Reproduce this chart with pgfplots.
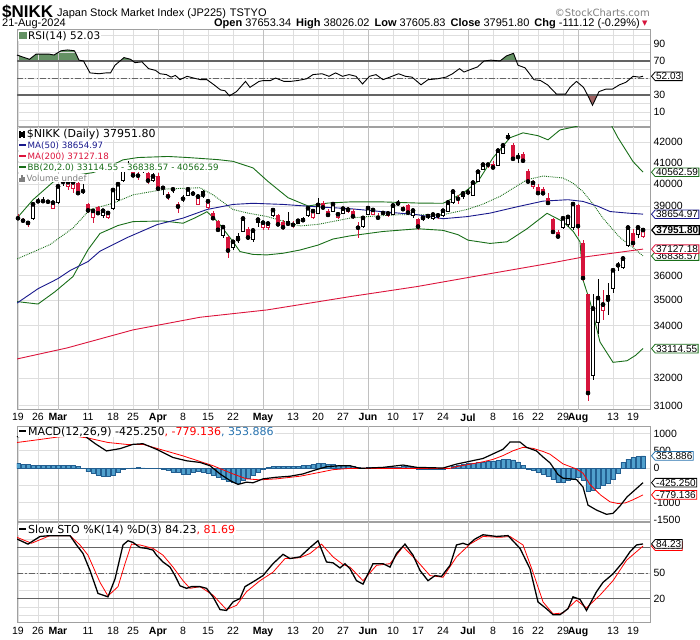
\documentclass[border=0pt]{standalone}
\usepackage{fontspec}
\setmainfont{Liberation Sans}
\newfontfamily\dv{DejaVu Sans}
\usepackage{pgfplots}
\pgfplotsset{compat=1.18}
\usepackage{pgfplotstable}
\usetikzlibrary{shapes.symbols}

\definecolor{cred}{RGB}{214,20,60}
\definecolor{ma50c}{RGB}{25,25,140}
\definecolor{ma200c}{RGB}{220,20,60}
\definecolor{bbg}{RGB}{25,110,25}
\definecolor{rsig}{RGB}{100,145,100}
\definecolor{rsir}{RGB}{160,100,100}
\definecolor{hfill}{RGB}{80,160,205}
\definecolor{hline}{RGB}{35,95,145}
\definecolor{gridc}{RGB}{222,222,222}
\definecolor{monc}{RGB}{192,192,192}
\definecolor{framec}{RGB}{160,160,160}
\definecolor{refc}{RGB}{100,100,100}
\definecolor{tagblue}{RGB}{40,115,175}

\pgfplotstableread{
x O H L C k
0 38550 38650 38400 38470 3
1 38450 38500 38300 38363 3
2 38230 38350 38100 38262 2
3 38450 39156 38400 39098 0
4 39260 39389 39150 39233 1
5 39270 39426 39150 39239 1
6 39250 39300 39100 39208 3
7 38900 39230 38876 39166 2
8 39200 39990 39100 39910 0
9 40150 40314 39950 40109 1
10 39900 40150 39750 40097 2
11 39800 40100 39600 40090 2
12 40050 40100 39500 39598 3
13 39720 40000 39550 39688 1
14 39100 39150 38700 38820 3
15 38500 38900 38271 38797 2
16 38950 39000 38600 38695 3
17 38600 38850 38500 38807 0
18 38500 38800 38450 38707 2
19 38900 39750 38850 39740 0
20 39300 40010 39250 40003 0
21 40200 40823 40100 40815 0
22 40950 41087 40600 40888 1
23 40600 40700 40300 40414 3
24 40450 40550 40200 40398 3
25 40600 40900 40500 40762 0
26 40500 40550 40000 40168 3
27 40200 40500 40100 40369 0
28 40400 40500 39700 39803 3
29 39880 39950 39500 39838 1
30 39550 39650 39300 39451 3
31 39820 39850 39600 39773 1
32 39100 39200 38700 38992 3
33 39420 39500 39200 39347 1
34 39500 39800 39450 39773 0
35 39650 39700 39450 39581 3
36 39100 39500 39050 39442 2
37 39700 39750 39400 39523 1
38 38950 39300 38900 39232 2
39 38700 38800 38400 38471 3
40 38330 38400 37900 37961 3
41 37700 38150 37600 38079 0
42 37650 37700 36733 37068 3
43 37200 37500 37100 37438 0
44 37700 37800 37400 37552 1
45 37900 38500 37850 38460 0
46 38000 38100 37500 37628 3
47 37550 38000 37450 37934 0
48 38280 38500 38100 38405 0
49 38050 38350 37950 38274 2
50 38050 38300 37950 38236 2
51 38600 38900 38550 38835 0
52 38600 38650 38150 38202 3
53 38300 38400 37950 38073 3
54 38350 38750 38150 38229 1
55 38220 38350 38050 38179 3
56 38250 38450 38200 38356 0
57 38480 38550 38300 38385 1
58 38600 38950 38550 38920 0
59 38500 38850 38450 38787 2
60 38700 39400 38650 39069 0
61 39150 39250 38900 38946 3
62 38800 38900 38550 38617 3
63 38800 39150 38750 39103 0
64 38500 38750 38450 38646 2
65 38700 38950 38650 38900 0
66 38800 38950 38700 38855 2
67 38800 38900 38450 38556 3
68 38120 38300 37617 38054 3
69 38100 38550 38050 38487 0
70 38650 38950 38600 38923 0
71 38650 38900 38600 38837 2
72 38580 38700 38400 38490 3
73 38760 38800 38600 38703 1
74 38600 38750 38550 38683 2
75 38650 39050 38600 39038 0
76 39160 39300 39000 39134 1
77 38950 39000 38800 38876 3
78 39050 39100 38700 38720 3
79 38600 38850 38500 38814 0
80 38450 38500 37950 38102 3
81 38460 38550 38350 38482 0
82 38540 38650 38450 38570 0
83 38450 38700 38400 38633 0
84 38560 38700 38450 38596 2
85 38600 38850 38550 38804 0
86 38800 39200 38750 39173 0
87 39200 39750 39100 39667 0
88 39400 39500 39100 39341 3
89 39450 39650 39350 39583 0
90 39700 39800 39500 39631 1
91 39500 40150 39450 40074 0
92 40150 40600 40100 40580 0
93 40700 40950 40650 40913 0
94 40870 41000 40750 40912 2
95 40950 41100 40700 40780 3
96 40900 41600 40850 41580 0
97 41450 41900 41400 41831 0
98 42350 42426 42100 42224 1
99 41850 41950 41100 41190 3
100 41300 41450 41000 41275 1
101 41400 41500 41000 41097 3
102 40600 40700 40100 40126 3
103 39900 40200 39800 40063 2
104 39900 40000 39550 39599 3
105 39800 39900 39500 39594 3
106 39400 39600 39100 39154 3
107 38450 38500 37800 37869 3
108 37850 37950 37600 37667 3
109 38050 38550 38000 38468 0
110 38200 38600 38100 38525 0
111 38050 39150 37950 39101 0
112 39050 39100 37700 38126 3
113 37400 37500 35800 35909 3
114 35250 35250 31156 31458 3
115 32100 35250 31950 34675 0
116 34140 35880 33660 35089 0
117 34600 35400 34200 34831 2
118 35200 35700 34400 35025 1
119 35500 36300 35300 36232 0
120 36500 36600 36200 36442 1
121 36350 36850 36300 36726 0
122 37300 38100 37200 38062 0
123 37800 38000 37200 37388 3
124 37750 38150 37600 38063 0
125 37653.34 38026.02 37605.83 37951.80 2
}\ohlc
\pgfplotstablecreatecol[create col/expr={\thisrow{H}-\thisrow{C}}]{wp}\ohlc
\pgfplotstablecreatecol[create col/expr={\thisrow{C}-\thisrow{L}}]{wm}\ohlc
\pgfplotstablecreatecol[create col/expr={max(\thisrow{O},\thisrow{C})-\thisrow{C}}]{bp}\ohlc
\pgfplotstablecreatecol[create col/expr={\thisrow{C}-min(\thisrow{O},\thisrow{C})}]{bm}\ohlc

\pgfplotstableread{
x y
-0.2 77
2.3 72
3.6 78
6.3 78
7.2 77
8.6 82
9.9 83
11.3 82
12.2 71
13.1 70
14.4 56
16.2 55
17.6 56
18.5 56
19.4 65
21.2 74
22.5 72
23.4 68
24.8 69
26.1 61
27.5 59
28.4 55
29.7 54
30.6 51
31.5 53
32.4 48
33.8 52
35.1 50
36.5 48
37.8 48
39.2 42
40.5 36
41.4 35
42.3 29
43.7 34
45.5 46
46.4 39
48.2 46
49.1 47
50.5 47
51.5 50
53.2 46
54.5 46
55.9 47
57.7 49
59 54
60.8 55
62.2 52
63.5 56
64.9 52
66.2 54
67.6 52
68.9 43
70.3 52
71.6 54
73 48
74.8 52
76.1 55
77.5 52
78.8 51
80.6 42
82 48
83.8 49
85.6 51
86.9 55
88.3 61
89.2 57
90.5 60
91.9 63
93.2 70
94.6 71
96.4 70
97.7 76
99.1 79
100 65
101.4 62
103.2 48
104.5 47
105.9 42
107.7 31
109.5 31
110.4 39
111.7 46
113.1 39
114 29
114.9 18
116.2 34
117.6 37
118.9 37
120.3 42
121.6 45
123 52
124.3 51
125 52.03
}\rsi

\pgfplotstableread{
x y
-0.2 904
2 960
4 990
6 1000
8 1040
10 1080
12 1040
13.4 923
15.5 700
17.7 495
20.4 562
23 686
25 705
27.7 543
31 305
33.7 210
36.4 162
38.4 67
40.4 -171
42.4 -362
44 -476
45.7 -410
47 -428
49 -314
51.7 -267
54.4 -238
57 -171
59 -76
61.7 38
64.4 67
66.4 67
68.4 -10
73 19
77 86
79.8 19
85 0
87.7 114
93 276
97 543
98.4 752
100.4 752
101.7 600
103.7 495
105 320
106.4 150
108 -190
109 -295
111.7 -333
113 -552
114 -1076
115.7 -1219
117.7 -1342
119 -1314
120.4 -1100
121.8 -838
123.5 -620
125 -425.25
}\macd

\pgfplotstableread{
x y
-0.2 740
4 820
8 900
11 930
14 870
18 740
22 680
25 686
28 560
33 352
39 67
43 -171
45.7 -314
48.4 -343
51.7 -314
56.4 -238
60.4 -124
63 -48
66.4 -10
73 -10
79.8 -10
86.4 -10
87.7 40
90 100
93 180
95 250
97 360
99 500
101 600
103 570
105 480
106.4 400
109 120
111.7 -29
113 -150
114.4 -480
116.5 -780
118.4 -980
120 -1030
121.5 -1010
123 -920
125 -779.136
}\sig

\pgfplotstableread{
x y
0 133
1 95
2 95
3 86
4 67
5 67
6 67
7 67
8 86
9 86
10 86
11 67
12 38
13 -10
14 -105
15 -143
16 -200
17 -238
18 -238
19 -200
20 -124
21 -29
22 -5
23 5
24 8
25 5
26 -5
27 -8
28 -10
29 -29
30 -76
31 -124
32 -124
33 -171
34 -171
35 -124
36 -105
37 -124
38 -143
39 -200
40 -267
41 -333
42 -390
43 -410
44 -428
45 -362
46 -295
47 -219
48 -124
49 -48
50 10
51 38
52 38
53 38
54 48
55 48
56 48
57 67
58 86
59 114
60 143
61 143
62 114
63 95
64 86
65 67
66 67
67 38
68 19
69 5
70 15
71 15
72 15
73 15
74 15
75 15
76 20
77 38
78 48
79 19
80 -29
81 -48
82 -48
83 -48
84 -48
85 -29
86 0
87 48
88 67
89 95
90 133
91 133
92 162
93 181
94 209
95 209
96 228
97 247
98 257
99 238
100 181
101 86
102 -29
103 -76
104 -124
105 -171
106 -238
107 -333
108 -410
109 -410
110 -362
111 -333
112 -267
113 -362
114 -676
115 -648
116 -581
117 -505
118 -428
119 -314
120 -143
121 162
122 257
123 300
124 330
125 353.886
}\hist

\pgfplotstableread{
x y
-0.2 90
2 84
4.4 93
6.4 94
10.4 94
11.7 83
13 73
14.4 53
16 26
18 22
19.4 43
21 83
22 88
23 86
24.4 80
25.7 79
27 77
27.7 71
29 63
30.4 57
31.4 47
32.4 35
33.7 32
34.7 34
36.4 34
37.7 32
39 22
40.4 7
41.7 6
43 16
44.4 20
45.4 34
47.4 41
49 47
51 61
53 72
54.4 67
56.4 69
58.4 80
60 88
61.7 63
63 62
64.4 56
65.4 61
66.4 55
67.7 41
69 37
71 61
73 61
74.4 57
75.7 73
77.4 84
79 71
80.4 53
82 41
83.4 47
84.7 46
86.4 59
87.7 83
89 85
90 83
91.4 90
93 95
95.7 93
98 94
100.4 79
102.4 55
104 16
105.7 8
107 1
108.4 1
110 8
111 22
112.4 19
113.7 6
115.7 28
117 39
119 49
121 63
122.4 75
123.7 83
125 84.23
}\stok

\pgfplotstableread{
x y
-0.2 92
2.7 85
6.4 94
10.4 94
12.4 83
14 71
16.4 39
18 23
20 34
21.4 61
22.7 84
24.4 83
27 79
29 71
31 57
33 41
34.4 32
36.4 34
39 24
41.7 7
43.7 12
45.7 28
48.4 41
51 51
53.4 67
56.4 68
58.4 73
60.7 84
63 69
65 60
66.4 57
69 41
71.7 59
74.4 61
77 81
79.7 65
82.4 47
85 45
87.7 69
90.4 84
93 93
96.4 92
98.4 93
101 83
103 51
105 16
107 2
109 3
111.7 18
113.7 9
116.4 24
119 41
121.7 65
125 81.69
}\stod

\pgfplotsset{
  panel/.style={scale only axis, width=633pt, xmin=-0.2, xmax=126.4, anchor=north west,
    axis line style={framec, line width=0.8pt}, no markers,
    xmajorgrids, ymajorgrids, major grid style={gridc, line width=0.7pt},
    major tick length=0pt, minor tick length=0pt,
    xtick={0,4,14,19,23,33,38,43,55,60,65,75,80,85,95,100,104,109,119,123},
    extra x ticks={8,28,49,70,90,112},
    extra x tick style={grid=major, major grid style={monc, line width=0.8pt}},
    yticklabel pos=right,
    tick label style={font=\fontsize{10.5}{12}\selectfont},
  },
  nolabels/.style={xticklabels={}, extra x tick labels={}},
  withlabels/.style={xticklabels={19,26,11,18,25,8,15,22,13,20,27,10,17,24,8,16,22,29,13,19},
     extra x tick labels={\textbf{Mar},\textbf{Apr},\textbf{May},\textbf{Jun},\textbf{Jul},\textbf{Aug}}},
  fillax/.style={scale only axis, width=633pt, anchor=north west, xmin=-0.2, xmax=126.4,
     axis line style={draw=none}, xtick=\empty, ytick=\empty, clip=true, no markers},
  cbase/.style={only marks, mark=none, forget plot, error bars/y dir=both, error bars/y explicit},
  wick/.style={cbase, error bars/error mark=none, error bars/error bar style={#1, line width=0.9pt}},
  body/.style={cbase, error bars/error mark=none, error bars/error bar style={#1, line width=3.9pt}},
  inner/.style={cbase, error bars/error mark=-, error bars/error bar style={white, line width=2.3pt},
     error bars/error mark options={rotate=90, #1, line width=0.8pt, mark size=1.95pt}},
  cls/.style={x filter/.expression={\thisrow{k}==#1 ? x : nan}},
  table/wtab/.style={x=x, y=C, y error plus=wp, y error minus=wm},
  table/btab/.style={x=x, y=C, y error plus=bp, y error minus=bm},
}
\tikzset{tag/.style={signal, signal to=west, signal pointer angle=100, draw=#1, fill=white, line width=0.8pt,
   inner xsep=1pt, inner ysep=0.8pt, anchor=west, font=\fontsize{10}{11}\selectfont, text=black}}

\begin{document}
\begin{tikzpicture}
\path[use as bounding box] (0pt,0pt) rectangle (700pt,-639pt);

% ---------- header
\node[anchor=base west, font=\bfseries\fontsize{17}{18}\selectfont, inner sep=0pt] at (2pt,-18pt) {\$NIKK};
\node[anchor=base west, font=\fontsize{11}{12}\selectfont, inner sep=0pt] at (57pt,-17pt) {Japan Stock Market Index (JP225)\hspace{4pt}TSTYO};
\node[anchor=base east, font=\dv\fontsize{10}{12}\selectfont, inner sep=0pt, text=gray] at (650pt,-17pt) {\textcopyright StockCharts.com};
\node[anchor=base west, font=\fontsize{11}{12}\selectfont, inner sep=0pt] at (2pt,-27pt) {21-Aug-2024};
\node[anchor=base east, font=\fontsize{11}{12}\selectfont, inner sep=0pt] at (640pt,-27pt) {\textbf{Open} 37653.34\hspace{5pt}\textbf{High} 38026.02\hspace{5pt}\textbf{Low} 37605.83\hspace{5pt}\textbf{Close} 37951.80\hspace{5pt}\textbf{Chg} -111.12 (-0.29\%)};
\node[anchor=base west, font=\dv\fontsize{7}{8}\selectfont, inner sep=0pt, text=cred] at (642pt,-26pt) {▼};

% ---------- RSI fills
\begin{axis}[fillax, at={(17pt,-29pt)}, height=32pt, ymin=70, ymax=107.6]
\addplot[fill=rsig, draw=none] table {\rsi} \closedcycle;
\end{axis}
\begin{axis}[fillax, at={(17pt,-95pt)}, height=32pt, ymin=-7.6, ymax=30]
\addplot[fill=rsir, draw=none] table {\rsi} |- (axis cs:-0.2,200) -- cycle;
\end{axis}

% ---------- RSI panel
\begin{axis}[panel, nolabels, at={(17pt,-29pt)}, height=98pt, ymin=-7.6, ymax=107.6,
  ytick={10,30,50,70,90}, yticklabels={10,30,,70,90},
  minor ytick={0,20,40,60,80,100}, yminorgrids, minor grid style={gridc, line width=0.7pt}]
\addplot[refc, line width=1.1pt] coordinates {(-0.2,70) (126.4,70)};
\addplot[refc, line width=1.1pt] coordinates {(-0.2,30) (126.4,30)};
\addplot[refc, line width=0.8pt, dash pattern=on 6pt off 2pt on 1.5pt off 2pt] coordinates {(-0.2,50) (126.4,50)};
\addplot[black, line width=0.9pt] table {\rsi};
\coordinate (tgR) at (axis cs:126.4,52.03);
\end{axis}

% ---------- price panel
\begin{axis}[panel, withlabels, at={(17pt,-127pt)}, height=283pt, ymode=log, ymin=30853, ymax=42731,
  ytick={31000,32000,33000,34000,35000,36000,37000,38000,39000,40000,41000,42000},
  yticklabels={31000,32000,,34000,35000,36000,,,39000,40000,41000,42000}]
\addplot[bbg, line width=0.9pt] coordinates {(-0.2,38480) (3,39300) (7,40100) (11,40400) (15,40540) (18,40800) (21,41140) (24,41250) (30,41300) (34,41250) (40,41150) (43,41070) (47,40760) (50,40130) (54,39390) (58,39020) (62,39150) (66.4,39200) (73,39200) (80,39150) (85,39140) (86.4,39300) (89,39600) (92,40130) (95,41240) (98.4,42200) (101,42440) (104,42300) (106,42100) (108.4,42580) (111,42720) (112.4,42800) (114,43600) (116,44000) (117.5,43500) (118.8,42750) (120,42200) (123,41060) (125,40562.59)};
\addplot[bbg, line width=0.9pt] coordinates {(-0.2,34950) (4,34850) (7.4,35350) (11,35970) (12.4,36500) (14,37100) (16.4,37800) (20,38150) (23,38320) (29,38350) (33,38250) (35.5,38500) (37.8,38760) (40,38300) (43,37450) (44.4,37020) (47,36900) (49.8,36880) (53,36950) (56.4,37090) (60,37300) (63,37560) (66.4,37700) (73,37890) (80,38010) (85,37940) (88,37750) (90,37510) (94.4,37370) (97.8,37440) (101.8,38010) (105.8,38690) (109,38320) (111,37900) (112.4,37440) (113,35830) (114.4,34950) (116.4,33360) (119,32590) (121.8,32650) (123.5,32850) (125,33114.55)};
\addplot[bbg, line width=0.9pt, densely dotted] coordinates {(-0.2,36710) (3,37000) (6.4,37320) (11,38040) (14.4,38860) (19,39140) (23,39520) (29.8,39790) (36.4,39850) (39,39520) (43,38860) (46,38700) (49.8,38550) (56.4,38130) (60,38200) (63,38330) (66.4,38480) (70,38550) (76.4,38630) (85,38630) (89.8,38860) (93,39100) (96.4,39450) (101.8,40210) (105,40380) (109,40290) (111,40050) (113,39670) (115,39100) (117,38470) (120.4,37620) (123,37200) (125,36838.57)};
\addplot[ma200c, line width=0.9pt] coordinates {(-0.2,32718) (9.8,33134) (23,33831) (36.4,34327) (49.8,34616) (66.4,35150) (79.8,35558) (93,36040) (106.4,36528) (112.4,36767) (125,37127.18)};
\addplot[ma50c, line width=0.9pt] coordinates {(-0.2,34890) (4,35470) (8,35890) (10.4,36220) (14,36600) (16.4,37040) (21.8,37620) (27.8,38190) (33,38480) (37.8,38860) (43,39090) (47,39140) (53,39090) (59.8,38980) (66.4,38900) (73,38760) (79.8,38630) (85,38450) (89.8,38540) (94.4,38700) (99.8,38980) (105,39240) (110,39300) (113,39220) (116,39000) (118.4,38770) (122,38700) (125,38654.97)};
% candles: wicks
\addplot[wick=black, cls=0] table[wtab] {\ohlc};
\addplot[wick=black, cls=1] table[wtab] {\ohlc};
\addplot[wick=cred, cls=2] table[wtab] {\ohlc};
\addplot[wick=cred, cls=3] table[wtab] {\ohlc};
% bodies
\addplot[body=black, cls=0] table[btab] {\ohlc};
\addplot[inner=black, cls=0] table[btab] {\ohlc};
\addplot[body=black, cls=1] table[btab] {\ohlc};
\addplot[body=cred, cls=2] table[btab] {\ohlc};
\addplot[inner=cred, cls=2] table[btab] {\ohlc};
\addplot[body=cred, cls=3] table[btab] {\ohlc};
\coordinate (tg1) at (axis cs:126.4,40562.59);
\coordinate (tg2) at (axis cs:126.4,38654.97);
\coordinate (tg3) at (axis cs:126.4,37951.80);
\coordinate (tg4) at (axis cs:126.4,37127.18);
\coordinate (tg5) at (axis cs:126.4,36838.57);
\coordinate (tg6) at (axis cs:126.4,33114.55);
\end{axis}

% ---------- MACD panel
\begin{axis}[panel, nolabels, at={(17pt,-426pt)}, height=95pt, ymin=-1536, ymax=1218,
  ytick={-1500,-1000,-500,0,500,1000}, yticklabels={-1500,-1000,,0,500,1000}]
\addplot[ybar, bar width=4.4pt, fill=hfill, draw=hline, line width=0.5pt] table {\hist};
\addplot[red, line width=0.8pt] table {\sig};
\addplot[black, line width=1.2pt] table {\macd};
\coordinate (tm1) at (axis cs:126.4,353.886);
\coordinate (tm2) at (axis cs:126.4,-425.25);
\coordinate (tm3) at (axis cs:126.4,-779.136);
\end{axis}

% ---------- STO panel
\begin{axis}[panel, withlabels, at={(17pt,-522pt)}, height=100pt, ymin=-7.6, ymax=110,
  ytick={20,50,80}, yticklabels={20,50,},
  minor ytick={0,10,30,40,60,70,90,100}, yminorgrids, minor grid style={gridc, line width=0.7pt},
  xticklabel style={yshift=-1.5pt}]
\addplot[refc, line width=1.1pt] coordinates {(-0.2,80) (126.4,80)};
\addplot[refc, line width=1.1pt] coordinates {(-0.2,20) (126.4,20)};
\addplot[refc, line width=0.8pt, dash pattern=on 6pt off 2pt on 1.5pt off 2pt] coordinates {(-0.2,50) (126.4,50)};
\addplot[red, line width=0.8pt] table {\stod};
\addplot[black, line width=1.3pt] table {\stok};
\coordinate (ts1) at (axis cs:126.4,84.23);
\coordinate (ts2) at (axis cs:126.4,81.69);
\end{axis}

% ---------- legends
\begin{scope}[every node/.style={anchor=west, fill=white, inner xsep=1pt, inner ysep=0.4pt}]
\node[font=\dv\fontsize{10.5}{12}\selectfont] at (18pt,-36pt) {\textcolor{rsig}{\rule{8pt}{7pt}}\hspace{1pt}RSI(14) 52.03};
\node[font=\dv\fontsize{11}{12}\selectfont] at (18pt,-134.5pt) {\rule[-0.5pt]{1.5pt}{7pt}\hspace{0.6pt}\rule[1pt]{1.5pt}{5pt}\hspace{0.6pt}\rule[0pt]{1.5pt}{6.5pt}\hspace{2pt}\$NIKK (Daily) 37951.80};
\node[font=\dv\fontsize{8.7}{10}\selectfont, text=ma50c] at (18pt,-145.7pt) {\rule[2.5pt]{7pt}{1.6pt}\hspace{1.5pt}MA(50) 38654.97};
\node[font=\dv\fontsize{8.7}{10}\selectfont, text=ma200c] at (18pt,-156.7pt) {\rule[2.5pt]{7pt}{1.6pt}\hspace{1.5pt}MA(200) 37127.18};
\node[font=\dv\fontsize{8.7}{10}\selectfont, text=bbg] at (18pt,-167.7pt) {\rule[2.5pt]{7pt}{1.6pt}\hspace{1.5pt}BB(20,2.0) 33114.55 - 36838.57 - 40562.59};
\node[font=\dv\fontsize{8.7}{10}\selectfont, text=gray] at (18pt,-178.2pt) {\rule{1.6pt}{4pt}\hspace{0.5pt}\rule{1.6pt}{7pt}\hspace{0.5pt}\rule{1.6pt}{5pt}\hspace{1.5pt}Volume undef};
\node[font=\dv\fontsize{11}{12}\selectfont] at (18pt,-432pt) {\rule[3pt]{7pt}{2pt}\hspace{2pt}MACD(12,26,9) -425.250\textcolor{red}{, -779.136}\textcolor{tagblue}{, 353.886}};
\node[font=\dv\fontsize{11}{12}\selectfont] at (18pt,-530pt) {\rule[3pt]{7pt}{2pt}\hspace{2pt}Slow STO \%K(14) \%D(3) 84.23\textcolor{red}{, 81.69}};
\end{scope}

% ---------- value tags
\node[tag=black] at ([xshift=1pt]tgR) {52.03};
\node[tag=bbg] at ([xshift=1pt]tg1) {40562.59};
\node[tag=ma50c] at ([xshift=1pt]tg2) {38654.97};
\node[tag=bbg] at ([xshift=1pt]tg5) {36838.57};
\node[tag=ma200c] at ([xshift=1pt]tg4) {37127.18};
\node[tag=black, line width=1.2pt, font=\bfseries\fontsize{10}{11}\selectfont] at ([xshift=1pt]tg3) {37951.80};
\node[tag=bbg] at ([xshift=1pt]tg6) {33114.55};
\node[tag=tagblue] at ([xshift=1pt]tm1) {353.886};
\node[tag=black] at ([xshift=1pt]tm2) {-425.250};
\node[tag=red] at ([xshift=1pt]tm3) {-779.136};
\node[tag=red] at ([xshift=1pt]ts2) {81.69};
\node[tag=black] at ([xshift=1pt]ts1) {84.23};
\end{tikzpicture}
\end{document}
